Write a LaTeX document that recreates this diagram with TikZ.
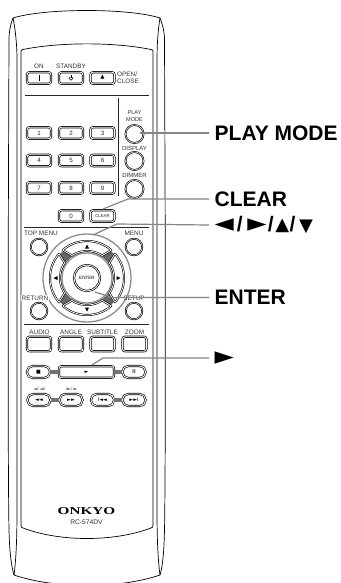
\documentclass[tikz,border=0pt]{standalone}
\usepackage{fontspec}
\usepackage{graphicx}
\setmainfont{Liberation Sans}
\newfontfamily\symf{DejaVu Sans}
\newfontfamily\onkf{Liberation Serif}
\newcommand{\fs}[1]{\fontsize{#1}{#1}\selectfont}
\newcommand{\slsh}{{\rmfamily\bfseries\fs{21}/}}
\tikzset{
  body/.style={draw=black,line width=.7pt,line join=round},
  lab/.style={inner sep=0pt,font=\fs{6.4},text=black!80,align=center},
  bigl/.style={inner sep=0pt,anchor=west,font=\bfseries\fs{21},text=black},
  ico/.style={font=\symf\fs{5},text=black},
  btn/.style={draw=black,fill=white,double=white,double distance=.9pt,line width=.65pt,rounded corners=2.5pt,inner sep=0pt,minimum width=24pt,minimum height=11.5pt,font=\fs{6.2},text=black!85},
  widebtn/.style={btn,minimum height=14.5pt},
  pill/.style={btn,rounded corners=5.6pt,minimum width=23pt,minimum height=12pt},
  rnd/.style={circle,draw=black,fill=white,double=white,double distance=.5pt,line width=.65pt,inner sep=0pt,minimum size=#1},
  rule/.style={draw=black!85,line width=.9pt},
  bar/.style={draw=black!55,line width=4pt},
  lead/.style={draw=black!48,line width=1.2pt,line join=round},
  crescent/.style={draw=black,fill=white,double=white,double distance=.8pt,line width=.6pt,line join=round}
}
\begin{document}
\begin{tikzpicture}[x=1pt,y=-1pt]
\useasboundingbox (0,0) rectangle (340,583);
\clip (0,0) rectangle (340,583);
\fill[white] (0,0) rectangle (340,583);
% body
\draw[body] (13,18) .. controls (45,8) and (129,8) .. (160,18);
\draw[body] (13,18) .. controls (10,26) and (9,32) .. (9,40) -- (8.5,170) .. controls (8,300) and (8,480) .. (9,530) .. controls (9.5,550) and (11,565) .. (14,575);
\draw[body] (160,18) .. controls (163,26) and (164.5,32) .. (164.5,40) -- (165,170) .. controls (165.5,300) and (165.5,480) .. (164.5,530) .. controls (164,550) and (163,565) .. (160,575);
\draw[body] (13,18) .. controls (15.5,30) and (17,45) .. (17,60) -- (17,510) .. controls (17,540) and (16,560) .. (14,575);
\draw[body] (160,18) .. controls (158,30) and (157,45) .. (157,60) -- (157,510) .. controls (157,540) and (158,560) .. (160,575);
\draw[body] (14,575) .. controls (55,589) and (119,589) .. (160,575);
% panel
\draw[body] (21,60) -- (21,52) .. controls (21,50.5) and (21,50) .. (23,49.5) .. controls (60,42) and (114,42) .. (151,49.5) .. controls (153,50) and (153,50.5) .. (153,52) -- (153,525) .. controls (153,527) and (152.5,527.5) .. (151,528) .. controls (114,542) and (60,542) .. (23,528) .. controls (21.5,527.5) and (21,527) .. (21,525) -- cycle;
% rules
\draw[rule] (25,95) -- (149,95);
\draw[rule,line width=.6pt] (118.3,98) -- (118.3,196);
\draw[rule] (24,227) -- (149,227);
\draw[rule] (24,324) -- (149,324);
% top row
\node[lab] (lon) at (39,66) {ON};
\node[lab] (lst) at (71,66) {STANDBY};
\node[btn] (on) at (39,78) {};
\node[btn] (standby) at (71,78) {};
\node[btn] (eject) at (102.5,78) {};
\draw[black,line width=.5pt] (39,75) -- (39,81);
\draw[black,line width=.45pt] (71,78.4) circle[radius=1.9];
\draw[white,line width=1.2pt] (71,75.5) -- (71,77);
\draw[black,line width=.45pt] (71,75) -- (71,78);
\node[ico,font=\symf\fs{5.5}] (ej) at (102.5,77.5) {▲};
\node[lab,anchor=west,align=left] (lop) at (117,78) {OPEN/\\[.6pt]CLOSE};
% numbers
\node[btn] (n1) at (39,133) {1};
\node[btn] (n2) at (71,133) {2};
\node[btn] (n3) at (102.5,133) {3};
\node[btn] (n4) at (39,160.5) {4};
\node[btn] (n5) at (71,160.5) {5};
\node[btn] (n6) at (102.5,160.5) {6};
\node[btn] (n7) at (39,188) {7};
\node[btn] (n8) at (71,188) {8};
\node[btn] (n9) at (102.5,188) {9};
\node[btn] (n0) at (71,216) {0};
\node[btn,font=\fs{4.3}] (clear) at (102.5,216) {CLEAR};
% right round column
\node[lab,font=\fs{5.6}] (lplay) at (134.5,116) {PLAY\\[.8pt]MODE};
\node[rnd=18pt] (playmode) at (134.5,134) {};
\node[lab,font=\fs{6}] (ldisp) at (134.5,148) {DISPLAY};
\node[rnd=18pt] (display) at (134.5,161) {};
\node[lab,font=\fs{6}] (ldim) at (134.5,175.5) {DIMMER};
\node[rnd=18pt] (dimmer) at (134.5,189) {};
% nav corners
\node[lab] (ltop) at (41,233.5) {TOP MENU};
\node[lab] (lmenu) at (134,233.5) {MENU};
\node[rnd=16.5pt] (topmenu) at (39,247) {};
\node[rnd=16.5pt] (menu) at (134,247) {};
\node[rnd=16.5pt] (return) at (39,311) {};
\node[rnd=16.5pt] (setup) at (134,311) {};
% nav ring
\begin{scope}[shift={(87,278)}]
  \fill[white] (0,0) circle[radius=45];
  \draw[black!45,line width=1.3pt] (0,0) circle[radius=44];
  \fill[black!60,even odd rule] (0,0) circle[radius=36] (0,0) circle[radius=26];
  \foreach \r in {0,90,180,270}{
    \begin{scope}[rotate=\r]
      \draw[crescent] plot[domain=-131:-49,samples=28] (\x:37) -- plot[domain=-56:-124,samples=22] (\x:27) -- cycle;
      \fill[black] (-2,-29.5) -- (2,-29.5) -- (0,-33.5) -- cycle;
    \end{scope}
  }
  \draw[black!45,line width=1.2pt] (0,0) circle[radius=25];
\end{scope}
\node[rnd=26pt,double distance=.8pt,font=\fs{4.6},text=black] (enter) at (87,278) {ENTER};
\node[lab,fill=white,inner sep=.3pt] (lret) at (35,298) {RETURN};
\node[lab,text=black!80] (lset) at (134,298) {SETUP};
% wide row
\node[lab] (laud) at (39.5,332) {AUDIO};
\node[lab] (lang) at (71,332) {ANGLE};
\node[lab] (lsub) at (102.5,332) {SUBTITLE};
\node[lab] (lzoom) at (134.5,332) {ZOOM};
\node[widebtn] (audio) at (39,344) {};
\node[widebtn] (angle) at (71,344) {};
\node[widebtn] (subtitle) at (102.5,344) {};
\node[widebtn] (zoom) at (134.5,344) {};
% transport
\node[pill,ico] (stop) at (38.5,372) {■};
\node[btn,minimum width=55pt,ico,minimum height=11.5pt] (play) at (86.5,372) {►};
\node[pill,font=\bfseries\fs{5.5}] (pause) at (134,372) {II};
\draw[bar] (stop) -- (play);
\draw[bar] (play) -- (pause);
\node[lab,font=\symf\fs{3.7}] (lrev) at (39.5,389) {◄I/ ◄II};
\node[lab,font=\symf\fs{3.7}] (lfwd) at (71.5,389) {II►/ I►};
\node[pill,ico] (rw) at (39,400) {◄◄};
\node[pill,ico] (ff) at (71,400) {►►};
\node[pill,ico] (prev) at (102.5,400) {I◄◄};
\node[pill,ico] (next) at (134,400) {►►I};
\draw[bar] (rw) -- (ff);
\draw[bar] (prev) -- (next);
% brand
\node[inner sep=0pt,font=\onkf\bfseries\fs{10.5},text=black] (onkyo) at (86.5,511) {\scalebox{1.45}[1]{ONKYO}};
\node[lab,font=\fs{6.7}] (model) at (86.5,522) {RC-574DV};
% big labels
\node[bigl] (tplay) at (214.5,133) {PLAY MODE};
\node[bigl] (tclear) at (214.5,199) {CLEAR};
\node[bigl,font=\symf\fs{20}] (tarrows) at (214.5,225) {\fs{25}◄\kern3pt\slsh\kern4.5pt\fs{25}►\kern1.5pt\slsh\kern1.5pt\fs{18}\raisebox{1.5pt}{▲}\kern.5pt\slsh\kern3.5pt\fs{18}\raisebox{.5pt}{▼}};
\node[bigl] (tenter) at (214.5,297.5) {ENTER};
\node[bigl,font=\symf\fs{25}] (tplay2) at (214.5,358) {►};
% leaders
\coordinate (cclear) at (103,209);
\coordinate (carrow) at (93,235);
\coordinate (center) at (95,292);
\coordinate (cplay) at (92,365);
\draw[lead] (140,133) -- ([xshift=-5.5pt]tplay.west);
\draw[lead] (cclear) -- (128,199) -- ([xshift=-5.5pt]tclear.west);
\draw[lead] (carrow) -- (117,224) -- ([xshift=-5.5pt]tarrows.west);
\draw[lead] (center) -- (112,297.5) -- ([xshift=-5.5pt]tenter.west);
\draw[lead] (cplay) -- (103,358) -- ([xshift=-5.5pt]tplay2.west);
\end{tikzpicture}
\end{document}
